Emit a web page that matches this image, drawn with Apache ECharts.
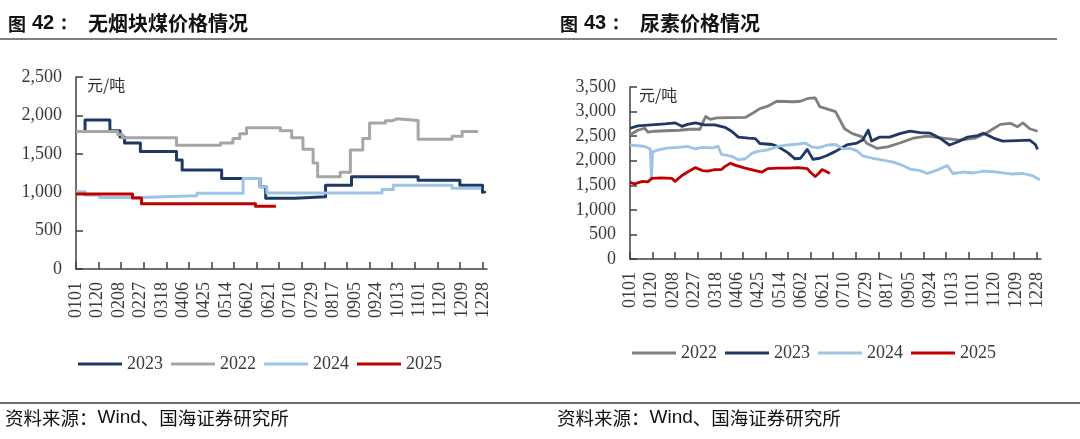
<!DOCTYPE html>
<html>
<head>
<meta charset="utf-8">
<script src="https://cdn.jsdelivr.net/npm/echarts@6/dist/echarts.min.js"></script>
<style>
html,body{margin:0;padding:0;background:#fff;}
#wrap{position:relative;width:1080px;height:439px;overflow:hidden;}
#c1{position:absolute;left:0;top:0;width:540px;height:439px;}
#c2{position:absolute;left:540px;top:0;width:540px;height:439px;}
</style>
</head>
<body>
<div id="wrap"><div id="c1"></div><div id="c2"></div></div>
<script>
// ---------- categories: calendar days MMDD ----------
const monthDays = [31,28,31,30,31,30,31,31,30,31,30,31];
const days = [];
for (let m = 0; m < 12; m++) {
  for (let d = 1; d <= monthDays[m]; d++) {
    days.push(String(m + 1).padStart(2, '0') + String(d).padStart(2, '0'));
  }
}
// tick labels shown on the x axis (every 19th day)
const xTickLabels = ['0101','0120','0208','0227','0318','0406','0425','0514','0602','0621','0710','0729','0817','0905','0924','1013','1101','1120','1209','1228'];

// ---------- Figure 42: anthracite lump coal price (元/吨), change points ----------
const coalNames = ['2023', '2022', '2024', '2025'];
const coal2023 = [['0101',1790],['0109',1940],['0131',1800],['0209',1720],['0213',1640],['0227',1530],['0331',1420],['0405',1290],['0510',1180],['0613',1070],['0618',920],['0714',940],['0810',1090],['0902',1200],['1031',1155],['1207',1090],['1227',1000],['1229',990]];
const coal2022 = [['0101',1790],['0207',1750],['0211',1710],['0331',1610],['0509',1640],['0520',1700],['0526',1760],['0601',1840],['0701',1800],['0711',1710],['0721',1560],['0730',1380],['0803',1200],['0823',1260],['0901',1550],['0912',1700],['0918',1900],['1002',1930],['1008',1955],['1012',1935],['1031',1690],['1130',1730],['1209',1790],['1223',1790]];
const coal2024 = [['0101',1005],['0109',965],['0122',930],['0227',955],['0418',985],['0529',1180],['0613',1070],['0619',990],['0929',1035],['1009',1090],['1130',1050],['1226',1050]];
const coal2025 = [['0101',978],['0220',925],['0228',848],['0609',818],['0627',818]];

// ---------- Figure 43: urea price (元/吨) ----------
const ureaNames = ['2022', '2023', '2024', '2025'];
const urea2022 = [['0101',2530],['0108',2620],['0114',2660],['0117',2580],['0123',2600],['0201',2610],['0214',2620],['0223',2640],['0304',2640],['0307',2800],['0309',2900],['0313',2840],['0319',2870],['0413',2880],['0420',2970],['0426',3060],['0503',3110],['0511',3210],['0526',3200],['0601',3210],['0608',3270],['0614',3280],['0618',3100],['0625',3050],['0702',3000],['0710',2650],['0717',2550],['0725',2490],['0730',2350],['0808',2250],['0817',2280],['0828',2360],['0909',2460],['0921',2500],['1005',2460],['1020',2420],['1103',2460],['1113',2570],['1125',2740],['1204',2760],['1210',2690],['1215',2770],['1221',2650],['1228',2600]];
const urea2023 = [['0101',2660],['0108',2710],['0120',2730],['0201',2750],['0210',2770],['0216',2700],['0221',2740],['0228',2770],['0308',2730],['0317',2730],['0326',2680],['0401',2600],['0407',2480],['0416',2460],['0422',2450],['0426',2350],['0507',2330],['0512',2290],['0521',2160],['0527',2040],['0601',2050],['0607',2230],['0612',2030],['0618',2050],['0624',2100],['0702',2190],['0712',2320],['0721',2360],['0726',2420],['0731',2620],['0803',2400],['0810',2480],['0819',2480],['0828',2550],['0906',2600],['0915',2570],['0924',2560],['1003',2450],['1011',2320],['1018',2380],['1027',2480],['1105',2510],['1110',2560],['1119',2460],['1127',2400],['1210',2410],['1221',2420],['1226',2330],['1228',2230]];
const urea2024 = [['0101',2320],['0114',2290],['0119',2240],['0120',1620],['0121',2180],['0126',2220],['0204',2260],['0213',2270],['0221',2290],['0228',2240],['0306',2270],['0315',2260],['0320',2290],['0323',2130],['0326',2120],['0401',2090],['0407',2020],['0413',2040],['0419',2150],['0424',2190],['0503',2220],['0512',2290],['0521',2320],['0530',2340],['0605',2360],['0611',2280],['0617',2260],['0625',2320],['0702',2330],['0709',2240],['0715',2250],['0721',2200],['0726',2100],['0804',2050],['0813',2010],['0822',1970],['0831',1900],['0906',1830],['0915',1800],['0921',1740],['0930',1810],['1009',1900],['1014',1740],['1023',1770],['1101',1750],['1110',1790],['1122',1770],['1204',1730],['1215',1740],['1224',1690],['1230',1610]];
const urea2025 = [['0101',1560],['0105',1530],['0112',1580],['0117',1570],['0120',1640],['0129',1650],['0207',1640],['0210',1580],['0216',1700],['0221',1770],['0228',1860],['0306',1800],['0311',1790],['0317',1820],['0323',1820],['0326',1880],['0331',1950],['0404',1910],['0413',1850],['0422',1800],['0428',1770],['0503',1840],['0512',1850],['0521',1850],['0530',1860],['0607',1840],['0610',1760],['0614',1680],['0617',1740],['0620',1820],['0623',1790],['0627',1740]];

const yTicksCoal = [0, 2500, 500];   // min, max, interval
const yTicksUrea = [0, 3500, 500];

// ---------- shared styling ----------
const SERIF = '"Liberation Serif","Times New Roman",serif';
const CJK = '"Noto Sans CJK SC","Noto Sans",sans-serif';
const AXIS_COLOR = '#404040';
const LABEL_COLOR = '#3a3a3a';
const fmt = v => String(v).replace(/\B(?=(\d{3})+(?!\d))/g, ',');

function headerGraphics(num, title, x0, lineEnd) {
  return [
    {type:'text', left:x0, top:15, style:{text:'图', font:'bold 18px ' + CJK, fill:'#111'}},
    {type:'text', left:x0 + 24, top:13, style:{text:num + '：', font:'bold 20px "Liberation Sans",Arial,sans-serif', fill:'#111'}},
    {type:'text', left:x0 + 80, top:13, style:{text:title, font:'bold 20px ' + CJK, fill:'#111'}},
    {type:'line', shape:{x1:0, y1:39, x2:lineEnd, y2:39}, style:{stroke:'#7f7f7f', lineWidth:2}},
    {type:'line', shape:{x1:0, y1:403, x2:540, y2:403}, style:{stroke:'#404040', lineWidth:1.5}},
    {type:'text', left:x0 - 3, top:408, style:{
      text:'{c|资料来源：}{l|Wind}{c|、国海证券研究所}',
      rich:{
        c:{font:'18.5px ' + CJK, fill:'#111'},
        l:{font:'19px "Liberation Sans",Arial,sans-serif', fill:'#111'}
      }
    }}
  ];
}

function makeOption(cfg) {
  return {
    animation: false,
    backgroundColor: '#fff',
    graphic: headerGraphics(cfg.num, cfg.title, cfg.x0, cfg.lineEnd).concat([
      {type:'text', left:cfg.unitX, top:cfg.unitY, style:{text:'元/吨', font:'16px ' + CJK, fill:'#333'}}
    ]),
    legend: {
      data: cfg.legend,
      left: cfg.legendX,
      top: cfg.legendY,
      icon: 'rect',
      itemWidth: 44,
      itemHeight: 3,
      itemGap: 8,
      textStyle: {fontFamily: SERIF, fontSize: 18, color: LABEL_COLOR, lineHeight: 20}
    },
    grid: {left: cfg.gridLeft, top: cfg.gridTop, width: 411, height: cfg.gridH},
    xAxis: {
      type: 'category',
      data: days,
      boundaryGap: false,
      axisLine: {lineStyle: {color: AXIS_COLOR, width: 1.5}},
      axisTick: {inside: true, length: 7, interval: (i) => i % 20 === 0, lineStyle: {color: AXIS_COLOR, width: 1.5}},
      axisLabel: {
        interval: (i, v) => xTickLabels.indexOf(v) >= 0,
        rotate: 90, margin: 13, fontFamily: SERIF, fontSize: 18, color: LABEL_COLOR,
        hideOverlap: false
      }
    },
    yAxis: {
      type: 'value',
      min: cfg.yTicks[0], max: cfg.yTicks[1], interval: cfg.yTicks[2],
      axisLine: {show: true, lineStyle: {color: AXIS_COLOR, width: 1.5}},
      axisTick: {show: true, inside: true, length: 7, lineStyle: {color: AXIS_COLOR, width: 1.5}},
      splitLine: {show: false},
      axisLabel: {margin: 14, fontFamily: SERIF, fontSize: 18, color: LABEL_COLOR, formatter: fmt}
    },
    series: cfg.series.map(s => ({
      name: s.name, type: 'line', data: s.data, step: s.step || false,
      symbol: 'none', color: s.color, z: s.z || 2,
      lineStyle: {color: s.color, width: s.width || 3, join: 'round'}
    }))
  };
}

const c1 = echarts.init(document.getElementById('c1'), null, {renderer: 'canvas'});
c1.setOption(makeOption({
  num: '42', title: '无烟块煤价格情况', x0: 8, lineEnd: 540,
  unitX: 87, unitY: 77,
  legend: coalNames, legendX: 73, legendY: 349,
  gridLeft: 76, gridTop: 77, gridH: 192, yTicks: yTicksCoal,
  series: [
    {name: '2023', data: coal2023, color: '#1F3864', step: 'end'},
    {name: '2022', data: coal2022, color: '#A6A6A6', step: 'end'},
    {name: '2024', data: coal2024, color: '#9DC3E6', step: 'end'},
    {name: '2025', data: coal2025, color: '#C00000', step: 'end'}
  ]
}));

const c2 = echarts.init(document.getElementById('c2'), null, {renderer: 'canvas'});
c2.setOption(makeOption({
  num: '43', title: '尿素价格情况', x0: 20, lineEnd: 517,
  unitX: 99, unitY: 87,
  legend: ureaNames, legendX: 87, legendY: 338,
  gridLeft: 90, gridTop: 87, gridH: 172, yTicks: yTicksUrea,
  series: [
    {name: '2022', data: urea2022, color: '#7F7F7F', width: 2.8},
    {name: '2023', data: urea2023, color: '#1F3864', width: 2.8},
    {name: '2024', data: urea2024, color: '#9DC3E6', width: 2.8},
    {name: '2025', data: urea2025, color: '#C00000', width: 2.8}
  ]
}));
</script>
</body>
</html>
